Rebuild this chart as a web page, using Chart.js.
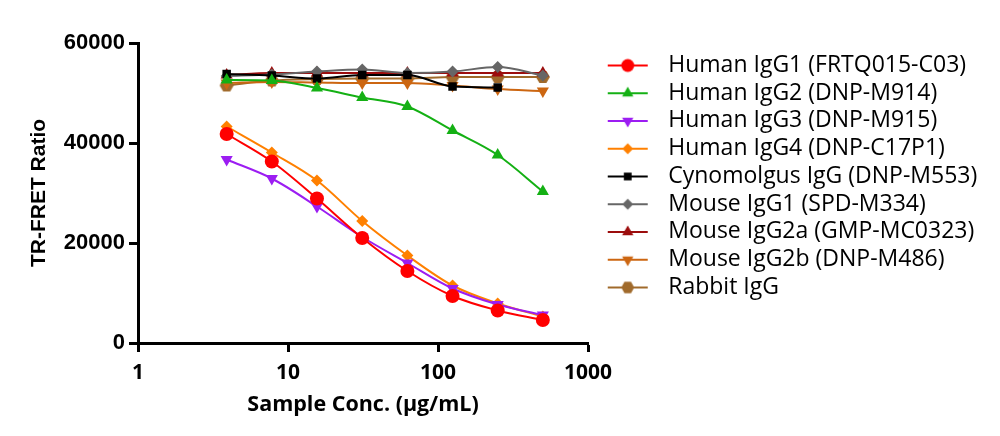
<!DOCTYPE html>
<html>
<head>
<meta charset="utf-8">
<script src="https://cdn.jsdelivr.net/npm/chart.js@4/dist/chart.umd.min.js"></script>
<style>
  html, body { margin: 0; padding: 0; background: #fff; }
  #wrap { width: 1000px; height: 436px; }
</style>
</head>
<body>
<div id="wrap"><canvas id="fretChart" width="1000" height="436"></canvas></div>
<script>
// sample concentrations (µg/mL)
const conc = [3.9, 7.8, 15.6, 31.25, 62.5, 125, 250, 500];

const seriesNames = [
    "Human IgG1 (FRTQ015-C03)",
    "Human IgG2 (DNP-M914)",
    "Human IgG3 (DNP-M915)",
    "Human IgG4 (DNP-C17P1)",
    "Cynomolgus IgG (DNP-M553)",
    "Mouse IgG1 (SPD-M334)",
    "Mouse IgG2a (GMP-MC0323)",
    "Mouse IgG2b (DNP-M486)",
    "Rabbit IgG"
];

const humanIgG1 = [41800, 36300, 28900, 21000, 14400, 9400, 6500, 4600];
const humanIgG2 = [52600, 52500, 51000, 49100, 47300, 42500, 37600, 30300];
const humanIgG3 = [36700, 32900, 27300, 21200, 16000, 10900, 7700, 5600];
const humanIgG4 = [43300, 38100, 32500, 24400, 17500, 11500, 7900, 5300];
const cynoIgG = [53800, 53500, 52900, 53600, 53600, 51300, 51100, null];
const mouseIgG1 = [53400, 53700, 54300, 54700, 54000, 54300, 55200, 53500];
const mouseIgG2a = [53600, 54000, 54000, 54000, 54000, 54000, 54000, 54000];
const mouseIgG2b = [52000, 52200, 52100, 52000, 52000, 51500, 50800, 50400];
const rabbitIgG = [51500, 52500, 52800, 52900, 52900, 53200, 53200, 53200];

const yTicks = [0, 20000, 40000, 60000];
const xTicks = [1, 10, 100, 1000];

const seriesData = [humanIgG1, humanIgG2, humanIgG3, humanIgG4, cynoIgG, mouseIgG1, mouseIgG2a, mouseIgG2b, rabbitIgG];
const colors = ["#FF0000", "#14B014", "#9C1DF2", "#FF8000", "#000000", "#666666", "#9C0D0D", "#CC6611", "#A06A2B"];
const styles = ["circle", "triangle", "triangle", "rectRot", "rect", "rectRot", "triangle", "triangle", "hexagon"];
const rotations = [0, 0, 180, 0, 0, 0, 0, 180, 0];
const radii = [7, 7, 7, 6, 6, 6, 7, 7, 7];

const legendFontSize = 23;
const legendPad = 4.75;
const legendBoxW = 64;

function drawHex(ctx, x, y, r) {
    ctx.beginPath();
    for (let i = 0; i < 6; i++) {
        const a = Math.PI / 3 * i;
        const px = x + r * Math.cos(a), py = y + r * Math.sin(a);
        if (i === 0) ctx.moveTo(px, py); else ctx.lineTo(px, py);
    }
    ctx.closePath();
    ctx.fill();
}

function hexCanvas(color, r) {
    const c = document.createElement("canvas");
    c.width = r * 2 + 2;
    c.height = r * 2 + 2;
    const g = c.getContext("2d");
    g.fillStyle = color;
    drawHex(g, r + 1, r + 1, r);
    return c;
}

// legend symbol: short line with the marker in the middle
function legendCanvas(i) {
    const c = document.createElement("canvas");
    c.width = legendBoxW;
    c.height = 18;
    const g = c.getContext("2d");
    g.strokeStyle = colors[i];
    g.lineWidth = 2;
    g.beginPath();
    g.moveTo(15, 9);
    g.lineTo(55, 9);
    g.stroke();
    g.fillStyle = colors[i];
    if (styles[i] === "hexagon") {
        drawHex(g, 35, 9, 6.5);
    } else {
        Chart.helpers.drawPoint(g, {
            pointStyle: styles[i], rotation: rotations[i], radius: radii[i] - 0.5, borderWidth: 0
        }, 35, 9);
    }
    return c;
}

// work out how wide the legend will be so the plot ends at x = 588
const measure = document.createElement("canvas").getContext("2d");
measure.font = legendFontSize + "px 'Open Sans'";
const longest = Math.max(...seriesNames.map(s => measure.measureText(s).width));
const legendTotal = legendPad + legendBoxW + legendFontSize / 2 + longest + 10;
const legendWidth = 412;
const rightPad = Math.max(0, legendWidth - legendTotal);

const datasets = seriesNames.map((name, i) => ({
    label: name,
    data: conc.map((x, j) => ({ x: x, y: seriesData[i][j] })),
    borderColor: colors[i],
    backgroundColor: colors[i],
    borderWidth: 2,
    pointStyle: styles[i] === "hexagon" ? hexCanvas(colors[i], 7) : styles[i],
    rotation: rotations[i],
    pointRadius: radii[i],
    pointBorderWidth: 0,
    cubicInterpolationMode: "monotone",
    spanGaps: false
}));

new Chart(document.getElementById("fretChart").getContext("2d"), {
    type: "line",
    data: { datasets: datasets },
    options: {
        responsive: false,
        animation: false,
        layout: { padding: { left: 0, top: 43, right: rightPad, bottom: 0 } },
        plugins: {
            tooltip: { enabled: false },
            legend: {
                position: "right",
                align: "start",
                maxWidth: legendWidth,
                title: { display: true, text: "", font: { size: 1 }, padding: { top: 5, bottom: 0 } },
                labels: {
                    color: "#000",
                    font: { family: "Open Sans", size: legendFontSize },
                    usePointStyle: true,
                    pointStyleWidth: legendBoxW,
                    padding: legendPad,
                    generateLabels: chart => chart.data.datasets.map((ds, i) => ({
                        text: ds.label,
                        pointStyle: legendCanvas(i),
                        fillStyle: colors[i],
                        strokeStyle: colors[i],
                        lineWidth: 0,
                        fontColor: "#000",
                        datasetIndex: i
                    }))
                }
            }
        },
        scales: {
            x: {
                type: "logarithmic",
                min: 1,
                max: 1000,
                afterBuildTicks: scale => { scale.ticks = xTicks.map(v => ({ value: v })); },
                afterFit: scale => { scale.height = 93; },
                ticks: {
                    color: "#000",
                    font: { family: "Open Sans", size: 21, weight: "bold" },
                    maxRotation: 0,
                    padding: 8,
                    callback: v => String(v)
                },
                grid: { drawOnChartArea: false, tickLength: 9, tickWidth: 3, tickColor: "#000" },
                border: { color: "#000", width: 3 },
                title: {
                    display: true,
                    text: "Sample Conc. (µg/mL)",
                    color: "#000",
                    font: { family: "Open Sans", size: 21.5, weight: "bold" },
                    padding: { top: 4, bottom: 18 }
                }
            },
            y: {
                min: 0,
                max: 60000,
                afterBuildTicks: scale => { scale.ticks = yTicks.map(v => ({ value: v })); },
                afterFit: scale => { scale.width = 138; },
                ticks: {
                    color: "#000",
                    font: { family: "Liberation Sans", size: 22, weight: "bold" },
                    padding: 4,
                    callback: v => String(v)
                },
                grid: { drawOnChartArea: false, tickLength: 9, tickWidth: 3, tickColor: "#000" },
                border: { color: "#000", width: 3 },
                title: {
                    display: true,
                    text: "TR-FRET Ratio",
                    color: "#000",
                    font: { family: "Liberation Sans", size: 21, weight: "bold" },
                    padding: { top: 27, bottom: 0 }
                }
            }
        }
    }
});
</script>
</body>
</html>
